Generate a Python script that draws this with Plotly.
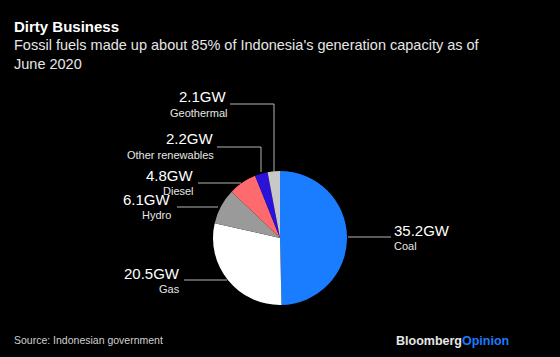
import plotly.graph_objects as go

categories = ["Coal", "Gas", "Hydro", "Diesel", "Other renewables", "Geothermal"]
values_gw = [35.2, 20.5, 6.1, 4.8, 2.2, 2.1]
value_labels = ["35.2GW", "20.5GW", "6.1GW", "4.8GW", "2.2GW", "2.1GW"]
colors = ["#1a7cff", "#ffffff", "#9a9a9a", "#ff6a6e", "#2a12d8", "#c8c8c8"]

W, H = 560, 357
def px(x):
    return x / W
def py(y):
    return 1 - y / H

cx, cy, r = 280, 238, 67

fig = go.Figure(go.Pie(
    labels=categories, values=values_gw, sort=False, direction="clockwise",
    rotation=0, textinfo="none", hoverinfo="label+value",
    marker=dict(colors=colors, line=dict(width=0)),
    domain=dict(x=[px(cx - r), px(cx + r)], y=[py(cy + r), py(cy - r)]),
    showlegend=False,
))

FONT = "Liberation Sans, Arial, sans-serif"
ann = []
shapes = []
LINE = dict(color="#b4b4b4", width=1)

def label(text_val, text_cat, x, yv, yc, anchor):
    ann.append(dict(x=px(x), y=py(yv), text=text_val, showarrow=False, xanchor=anchor,
                    yanchor="middle", font=dict(size=15, color="#ffffff", family=FONT)))
    ann.append(dict(x=px(x), y=py(yc), text=text_cat, showarrow=False, xanchor=anchor,
                    yanchor="middle", font=dict(size=11, color="#e6e6e6", family=FONT)))

def seg(x0, y0, x1, y1):
    shapes.append(dict(type="line", xref="paper", yref="paper", x0=px(x0), y0=py(y0),
                       x1=px(x1), y1=py(y1), line=LINE))

# Coal
label(value_labels[0], categories[0], 392, 230, 246, "left")
seg(348, 237, 391, 237)
# Gas
label(value_labels[1], categories[1], 182, 273, 289, "right")
seg(184, 280, 227, 280)
# Hydro
label(value_labels[2], categories[2], 173, 199, 215, "right")
seg(177, 207, 218, 207)
# Diesel
label(value_labels[3], categories[3], 196, 175, 191, "right")
seg(198, 183, 241, 183)
# Other renewables
label(value_labels[4], categories[4], 216, 139, 155, "right")
seg(217, 147, 261, 147)
seg(261, 147, 261, 172)
# Geothermal
label(value_labels[5], categories[5], 229, 97, 113, "right")
seg(230, 104, 274, 104)
seg(274, 104, 274, 171)

# Title & subtitle
ann.append(dict(x=px(12), y=py(27), text="<b>Dirty Business</b>", showarrow=False,
                xanchor="left", yanchor="middle", font=dict(size=15, color="#ffffff", family=FONT)))
ann.append(dict(x=px(12), y=py(45), text="Fossil fuels made up about 85% of Indonesia's generation capacity as of",
                showarrow=False, xanchor="left", yanchor="middle",
                font=dict(size=14.5, color="#e6e6e6", family=FONT)))
ann.append(dict(x=px(12), y=py(64), text="June 2020",
                showarrow=False, xanchor="left", yanchor="middle",
                font=dict(size=14.5, color="#e6e6e6", family=FONT)))
# Source
ann.append(dict(x=px(12), y=py(340), text="Source: Indonesian government", showarrow=False,
                xanchor="left", yanchor="middle", font=dict(size=10.5, color="#d0d0d0", family=FONT)))
ann.append(dict(x=px(511), y=py(341), text="<b>Bloomberg</b><b><span style='color:#1a7cff'>Opinion</span></b>",
                showarrow=False, xanchor="right", yanchor="middle",
                font=dict(size=12.5, color="#e6e6e6", family=FONT)))

fig.update_layout(
    width=W, height=H, paper_bgcolor="#000000", plot_bgcolor="#000000",
    margin=dict(l=0, r=0, t=0, b=0), annotations=ann, shapes=shapes,
)

fig.write_html(
    "out.html",
    config={"displayModeBar": False},
    post_script="document.body.style.margin='0';document.body.style.background='#000';document.body.style.overflow='hidden';",
)
